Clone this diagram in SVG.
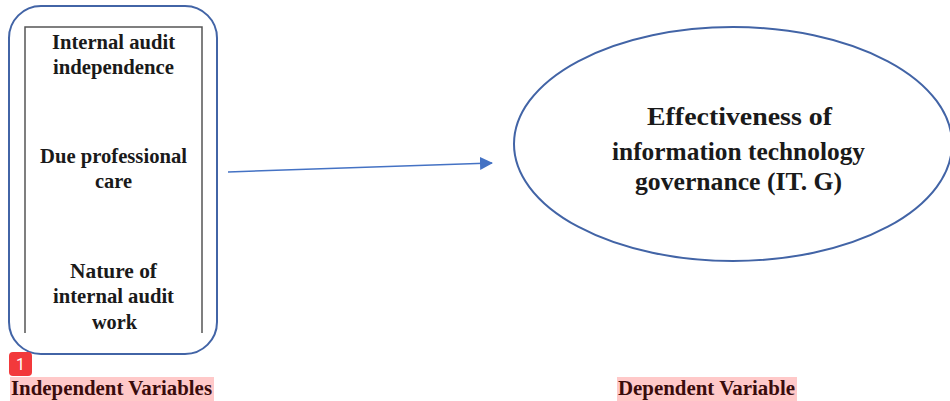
<svg xmlns="http://www.w3.org/2000/svg" width="950" height="401" viewBox="0 0 950 401">
<style>
  .t { font-family: "Liberation Serif", "Times New Roman", serif; font-weight: bold; fill: #1a1a1a; text-anchor: middle; }
  .s { font-size: 20px; }
  .b { font-size: 26px; }
  .lab { font-family: "Liberation Serif", "Times New Roman", serif; font-weight: bold; font-size: 20px; fill: #3a0c0c; }
  .labbg { fill: #ffc9c9; }
  .blue { fill: none; stroke: #4264a6; stroke-width: 2; }
</style>
<defs>
  <marker id="arr" markerWidth="13" markerHeight="13" refX="12" refY="6.5" orient="auto" markerUnits="userSpaceOnUse">
    <path d="M0,0 L13,6.5 L0,13 Z" fill="#4472c4"/>
  </marker>
</defs>
<rect width="950" height="401" fill="#ffffff"/>

<g id="independent">
  <rect class="blue" x="9" y="6" width="208" height="348" rx="32" ry="32"/>
  <path d="M25,333 L25,27 L202,27 L202,333" fill="none" stroke="#555555" stroke-width="1.5"/>
  <text class="t s" x="113.5" y="49" textLength="123" lengthAdjust="spacingAndGlyphs">Internal audit</text>
  <text class="t s" x="113.5" y="74" textLength="121" lengthAdjust="spacingAndGlyphs">independence</text>
  <text class="t s" x="113.5" y="163" textLength="147" lengthAdjust="spacingAndGlyphs">Due professional</text>
  <text class="t s" x="113.5" y="188" textLength="37" lengthAdjust="spacingAndGlyphs">care</text>
  <text class="t s" x="113.5" y="278" textLength="87" lengthAdjust="spacingAndGlyphs">Nature of</text>
  <text class="t s" x="113.5" y="303" textLength="121" lengthAdjust="spacingAndGlyphs">internal audit</text>
  <text class="t s" x="114.5" y="329" textLength="45" lengthAdjust="spacingAndGlyphs">work</text>
</g>

<g id="dependent">
  <ellipse class="blue" cx="733" cy="144" rx="219" ry="117"/>
  <text class="t b" x="739.5" y="125" textLength="185" lengthAdjust="spacingAndGlyphs">Effectiveness of</text>
  <text class="t b" x="738.5" y="160" textLength="253" lengthAdjust="spacingAndGlyphs">information technology</text>
  <text class="t b" x="738.5" y="190" textLength="207" lengthAdjust="spacingAndGlyphs">governance (IT. G)</text>
</g>

<g id="connectors">
  <line x1="228" y1="172" x2="492" y2="163" stroke="#4472c4" stroke-width="1.5" marker-end="url(#arr)"/>
</g>

<g id="labels">
  <rect class="labbg" x="10" y="377" width="204" height="24"/>
  <text class="lab" x="11" y="395" textLength="201" lengthAdjust="spacingAndGlyphs">Independent Variables</text>
  <rect class="labbg" x="617" y="377" width="180" height="24"/>
  <text class="lab" x="618" y="395" textLength="177" lengthAdjust="spacingAndGlyphs">Dependent Variable</text>
</g>

<g id="badge">
  <rect x="9" y="352" width="23" height="24" rx="4" fill="#f2393b"/>
  <text x="20.5" y="370" font-family="Roboto, 'Liberation Sans', sans-serif" font-size="16" fill="#ffffff" text-anchor="middle">1</text>
</g>
</svg>
